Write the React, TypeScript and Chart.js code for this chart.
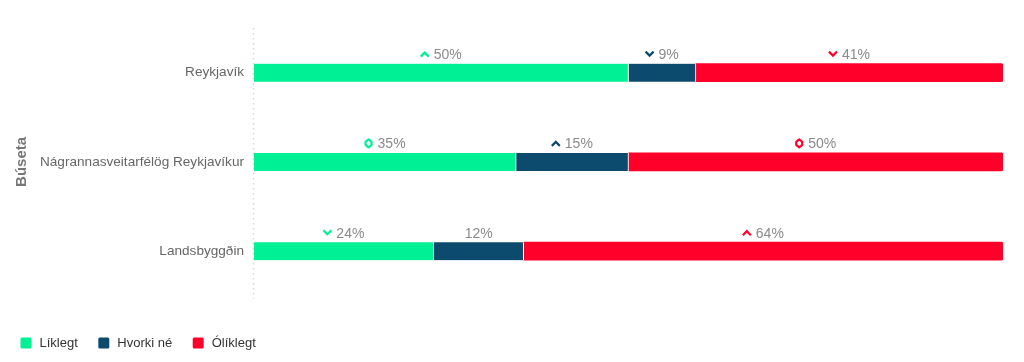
import React, { useEffect, useRef } from "react";
import { Chart, registerables } from "chart.js";

Chart.register(...registerables);

const categories = ["Reykjavík", "Nágrannasveitarfélög Reykjavíkur", "Landsbyggðin"];
const seriesNames = ["Líklegt", "Hvorki né", "Ólíklegt"];
const likely = [50, 35, 24];
const neither = [9, 15, 12];
const unlikely = [41, 50, 64];
const likelyTrend = ["up", "diamond", "down"];
const neitherTrend = ["down", "up", "none"];
const unlikelyTrend = ["down", "diamond", "up"];
const colors = ["#00F096", "#0C4A6E", "#FF002B"];
const axisTitle = "Búseta";

const FONT = "'Liberation Sans', Arial, sans-serif";

const trends = [likelyTrend, neitherTrend, unlikelyTrend];

function drawIcon(ctx: CanvasRenderingContext2D, kind: string, x: number, y: number, color: string) {
  ctx.save();
  ctx.strokeStyle = color;
  ctx.lineWidth = 2.2;
  ctx.lineJoin = "miter";
  ctx.lineCap = "butt";
  ctx.beginPath();
  if (kind === "up") {
    ctx.moveTo(x, y + 2.5);
    ctx.lineTo(x + 4, y - 1.5);
    ctx.lineTo(x + 8, y + 2.5);
  } else if (kind === "down") {
    ctx.moveTo(x, y - 2.5);
    ctx.lineTo(x + 4, y + 1.5);
    ctx.lineTo(x + 8, y - 2.5);
  } else if (kind === "diamond") {
    ctx.lineJoin = "round";
    ctx.moveTo(x + 4, y - 4);
    ctx.lineTo(x + 7, y - 1.5);
    ctx.lineTo(x + 7, y + 1.5);
    ctx.lineTo(x + 4, y + 4);
    ctx.lineTo(x + 1, y + 1.5);
    ctx.lineTo(x + 1, y - 1.5);
    ctx.closePath();
  }
  ctx.stroke();
  ctx.restore();
}

const labelPlugin = {
  id: "segLabels",
  beforeDatasetsDraw(chart: any) {
    const ctx = chart.ctx as CanvasRenderingContext2D;
    const area = chart.chartArea;
    ctx.save();
    ctx.strokeStyle = "#d6d6d6";
    ctx.lineWidth = 1.5;
    ctx.setLineDash([1.5, 3.5]);
    ctx.beginPath();
    const x = Math.round(area.left) - 0.5;
    ctx.moveTo(x, area.top);
    ctx.lineTo(x, area.bottom + 3);
    ctx.stroke();
    ctx.restore();
  },
  afterDatasetsDraw(chart: any) {
    const ctx = chart.ctx as CanvasRenderingContext2D;
    ctx.save();
    ctx.font = `14px ${FONT}`;
    ctx.textBaseline = "middle";
    ctx.textAlign = "left";
    chart.data.datasets.forEach((ds: any, di: number) => {
      const meta = chart.getDatasetMeta(di);
      meta.data.forEach((bar: any, i: number) => {
        const p = bar.getProps(["x", "y", "base", "height"], true);
        const cx = (p.x + p.base) / 2;
        const ty = p.y - p.height / 2 - 8.5;
        const text = ds.data[i] + "%";
        const tw = ctx.measureText(text).width;
        const kind = trends[di][i];
        const iconW = kind === "none" ? 0 : 8;
        const gap = kind === "none" ? 0 : 5;
        const total = iconW + gap + tw;
        const start = cx - total / 2;
        if (kind !== "none") drawIcon(ctx, kind, start, ty - 1, colors[di]);
        ctx.fillStyle = "#8a8a8a";
        ctx.fillText(text, start + iconW + gap, ty);
      });
    });
    ctx.restore();
  },
};

export default function App() {
  const ref = useRef<HTMLCanvasElement | null>(null);
  useEffect(() => {
    if (!ref.current) return;
    const series = [likely, neither, unlikely];
    const chart = new Chart(ref.current, {
      type: "bar",
      data: {
        labels: categories,
        datasets: series.map((d, i) => ({
          label: seriesNames[i],
          data: d,
          backgroundColor: colors[i],
          borderColor: "#ffffff",
          borderWidth: { top: 0, bottom: 0, left: 0, right: i < 2 ? 1 : 0 },
          borderSkipped: false,
          borderRadius: i === 2 ? { topRight: 2, bottomRight: 2, topLeft: 0, bottomLeft: 0 } : 0,
          barThickness: 18,
        })),
      },
      options: {
        indexAxis: "y",
        animation: false,
        responsive: true,
        maintainAspectRatio: false,
        layout: { padding: { left: 0, right: 21, top: 28, bottom: 2 } },
        scales: {
          x: {
            stacked: true,
            min: 0,
            max: 100,
            display: false,
          },
          y: {
            stacked: true,
            grid: { display: false, drawTicks: false },
            border: { display: false },
            afterFit: (axis: any) => {
              axis.width = 254;
            },
            ticks: {
              color: "#666666",
              font: { family: FONT, size: 13.6 },
              padding: 10,
            },
            title: {
              display: true,
              text: axisTitle,
              color: "#777777",
              font: { family: FONT, size: 15, weight: "bold" },
              padding: { top: 13, bottom: 4 },
            },
          },
        },
        plugins: {
          legend: {
            position: "bottom",
            align: "start",
            title: {
              display: true,
              text: "",
              font: { size: 1 },
              padding: { top: 20, bottom: 0 },
            },
            labels: {
              boxWidth: 14,
              boxHeight: 14,
              useBorderRadius: true,
              borderRadius: 3,
              padding: 19,
              color: "#333333",
              font: { family: FONT, size: 13 },
              generateLabels: (chart: any) =>
                Chart.defaults.plugins.legend.labels.generateLabels(chart).map((l: any) => ({
                  ...l,
                  strokeStyle: "#ffffff",
                  lineWidth: 3,
                })),
            },
          },
          tooltip: { enabled: false },
        },
      },
      plugins: [labelPlugin],
    } as any);
    return () => chart.destroy();
  }, []);
  return (
    <div style={{ position: "fixed", left: 0, top: 0, width: 1024, height: 362 }}>
      <canvas ref={ref} />
    </div>
  );
}
